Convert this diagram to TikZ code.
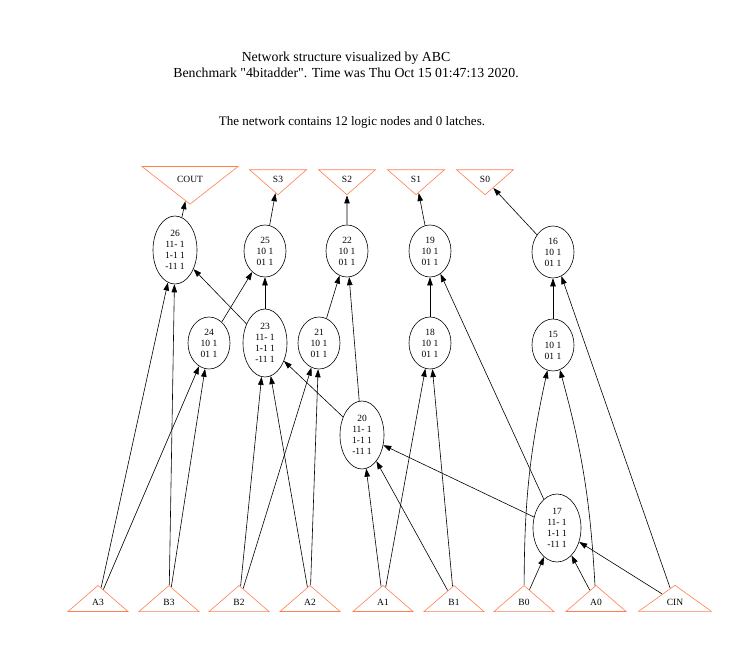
\documentclass[tikz,border=0pt]{standalone}
\usepackage{fontspec}
\setmainfont{Liberation Serif}[Ligatures=TeXOff]
\usetikzlibrary{shapes.geometric, arrows.meta}
\definecolor{iocoral}{RGB}{255,127,80}

\begin{document}
\begin{tikzpicture}[
        x=1pt, y=-1pt,
        logic/.style={draw, ellipse, inner sep=0pt, minimum width=42pt, minimum height=52pt, align=center, font=\fontsize{9.5}{11}\selectfont, line width=0.6pt},
        bigger/.style={logic, minimum width=44pt, minimum height=68pt},
        pin/.style={draw=iocoral, isosceles triangle, isosceles triangle stretches, shape border rotate=90, inner sep=0pt, minimum width=60pt, minimum height=26pt, font=\fontsize{9.5}{11}\selectfont, line width=0.6pt},
        pout/.style={pin, shape border rotate=-90, minimum width=57pt, minimum height=25pt},
        arrow/.style={-{Triangle[length=8pt, width=5.5pt]}, line width=0.6pt}
    ]
        \useasboundingbox (0, 0) rectangle (745, 661);

        % Header
        \node[font=\fontsize{13.8}{16}\selectfont, align=center] (title) at (346, 65) {Network structure visualized by ABC\\Benchmark "4bitadder". Time was Thu Oct 15 01:47:13 2020.};
        \node[font=\fontsize{13}{15}\selectfont] (info) at (352, 122) {The network contains 12 logic nodes and 0 latches.};

        % Outputs
        \node[pout, minimum width=96pt] (COUT) at (190, 179) {COUT};
        \node[pout] (S3) at (278, 179) {S3};
        \node[pout] (S2) at (347, 179) {S2};
        \node[pout] (S1) at (416, 179) {S1};
        \node[pout] (S0) at (485, 179) {S0};

        % Logic nodes, upper row
        \node[bigger] (n26) at (175, 250) {26\\11- 1\\1-1 1\\-11 1};
        \node[logic] (n25) at (265, 251) {25\\10 1\\01 1};
        \node[logic] (n22) at (347, 251) {22\\10 1\\01 1};
        \node[logic] (n19) at (430, 251) {19\\10 1\\01 1};
        \node[logic] (n16) at (553, 252) {16\\10 1\\01 1};

        % Logic nodes, middle row
        \node[logic] (n24) at (209, 343) {24\\10 1\\01 1};
        \node[bigger] (n23) at (265, 343) {23\\11- 1\\1-1 1\\-11 1};
        \node[logic] (n21) at (319, 343) {21\\10 1\\01 1};
        \node[logic] (n18) at (430, 343) {18\\10 1\\01 1};
        \node[logic] (n15) at (553, 345) {15\\10 1\\01 1};

        % Carry nodes
        \node[bigger] (n20) at (362, 435) {20\\11- 1\\1-1 1\\-11 1};
        \node[bigger, minimum width=48pt] (n17) at (557, 528) {17\\11- 1\\1-1 1\\-11 1};

        % Inputs
        \node[pin] (A3) at (98, 602) {A3};
        \node[pin] (B3) at (169, 602) {B3};
        \node[pin] (B2) at (239, 602) {B2};
        \node[pin] (A2) at (310, 602) {A2};
        \node[pin] (A1) at (383, 602) {A1};
        \node[pin] (B1) at (454, 602) {B1};
        \node[pin] (B0) at (524, 602) {B0};
        \node[pin] (A0) at (596, 602) {A0};
        \node[pin, minimum width=73pt] (CIN) at (675, 602) {CIN};

        % Arrows to outputs
        \draw[arrow] (n26) -- (COUT);
        \draw[arrow] (n25) -- (S3);
        \draw[arrow] (n22) -- (S2);
        \draw[arrow] (n19) -- (S1);
        \draw[arrow] (n16) -- (S0);

        % Fanins of 26, 25, 24, 23
        \draw[arrow] (A3) -- (n26);
        \draw[arrow] (B3) -- (n26);
        \draw[arrow] (n23) -- (n26);
        \draw[arrow] (n24) -- (n25);
        \draw[arrow] (n23) -- (n25);
        \draw[arrow] (A3) -- (n24);
        \draw[arrow] (B3) -- (n24);
        \draw[arrow] (B2) -- (n23);
        \draw[arrow] (A2) -- (n23);
        \draw[arrow] (n20) -- (n23);

        % Fanins of 22, 21, 20
        \draw[arrow] (n21) -- (n22);
        \draw[arrow] (n20) -- (n22);
        \draw[arrow] (B2) -- (n21);
        \draw[arrow] (A2) -- (n21);
        \draw[arrow] (A1) -- (n20);
        \draw[arrow] (B1) -- (n20);
        \draw[arrow] (n17) -- (n20);

        % Fanins of 19, 18
        \draw[arrow] (n18) -- (n19);
        \draw[arrow] (n17) -- (n19);
        \draw[arrow] (A1) -- (n18);
        \draw[arrow] (B1) -- (n18);

        % Fanins of 16, 15, 17
        \draw[arrow] (n15) -- (n16);
        \draw[arrow] (CIN) -- (n16);
        \draw[arrow] (B0) to[bend left=6] (n15);
        \draw[arrow] (A0) to[bend right=6] (n15);
        \draw[arrow] (B0) -- (n17);
        \draw[arrow] (A0) -- (n17);
        \draw[arrow] (CIN) -- (n17);
    \end{tikzpicture}
\end{document}
